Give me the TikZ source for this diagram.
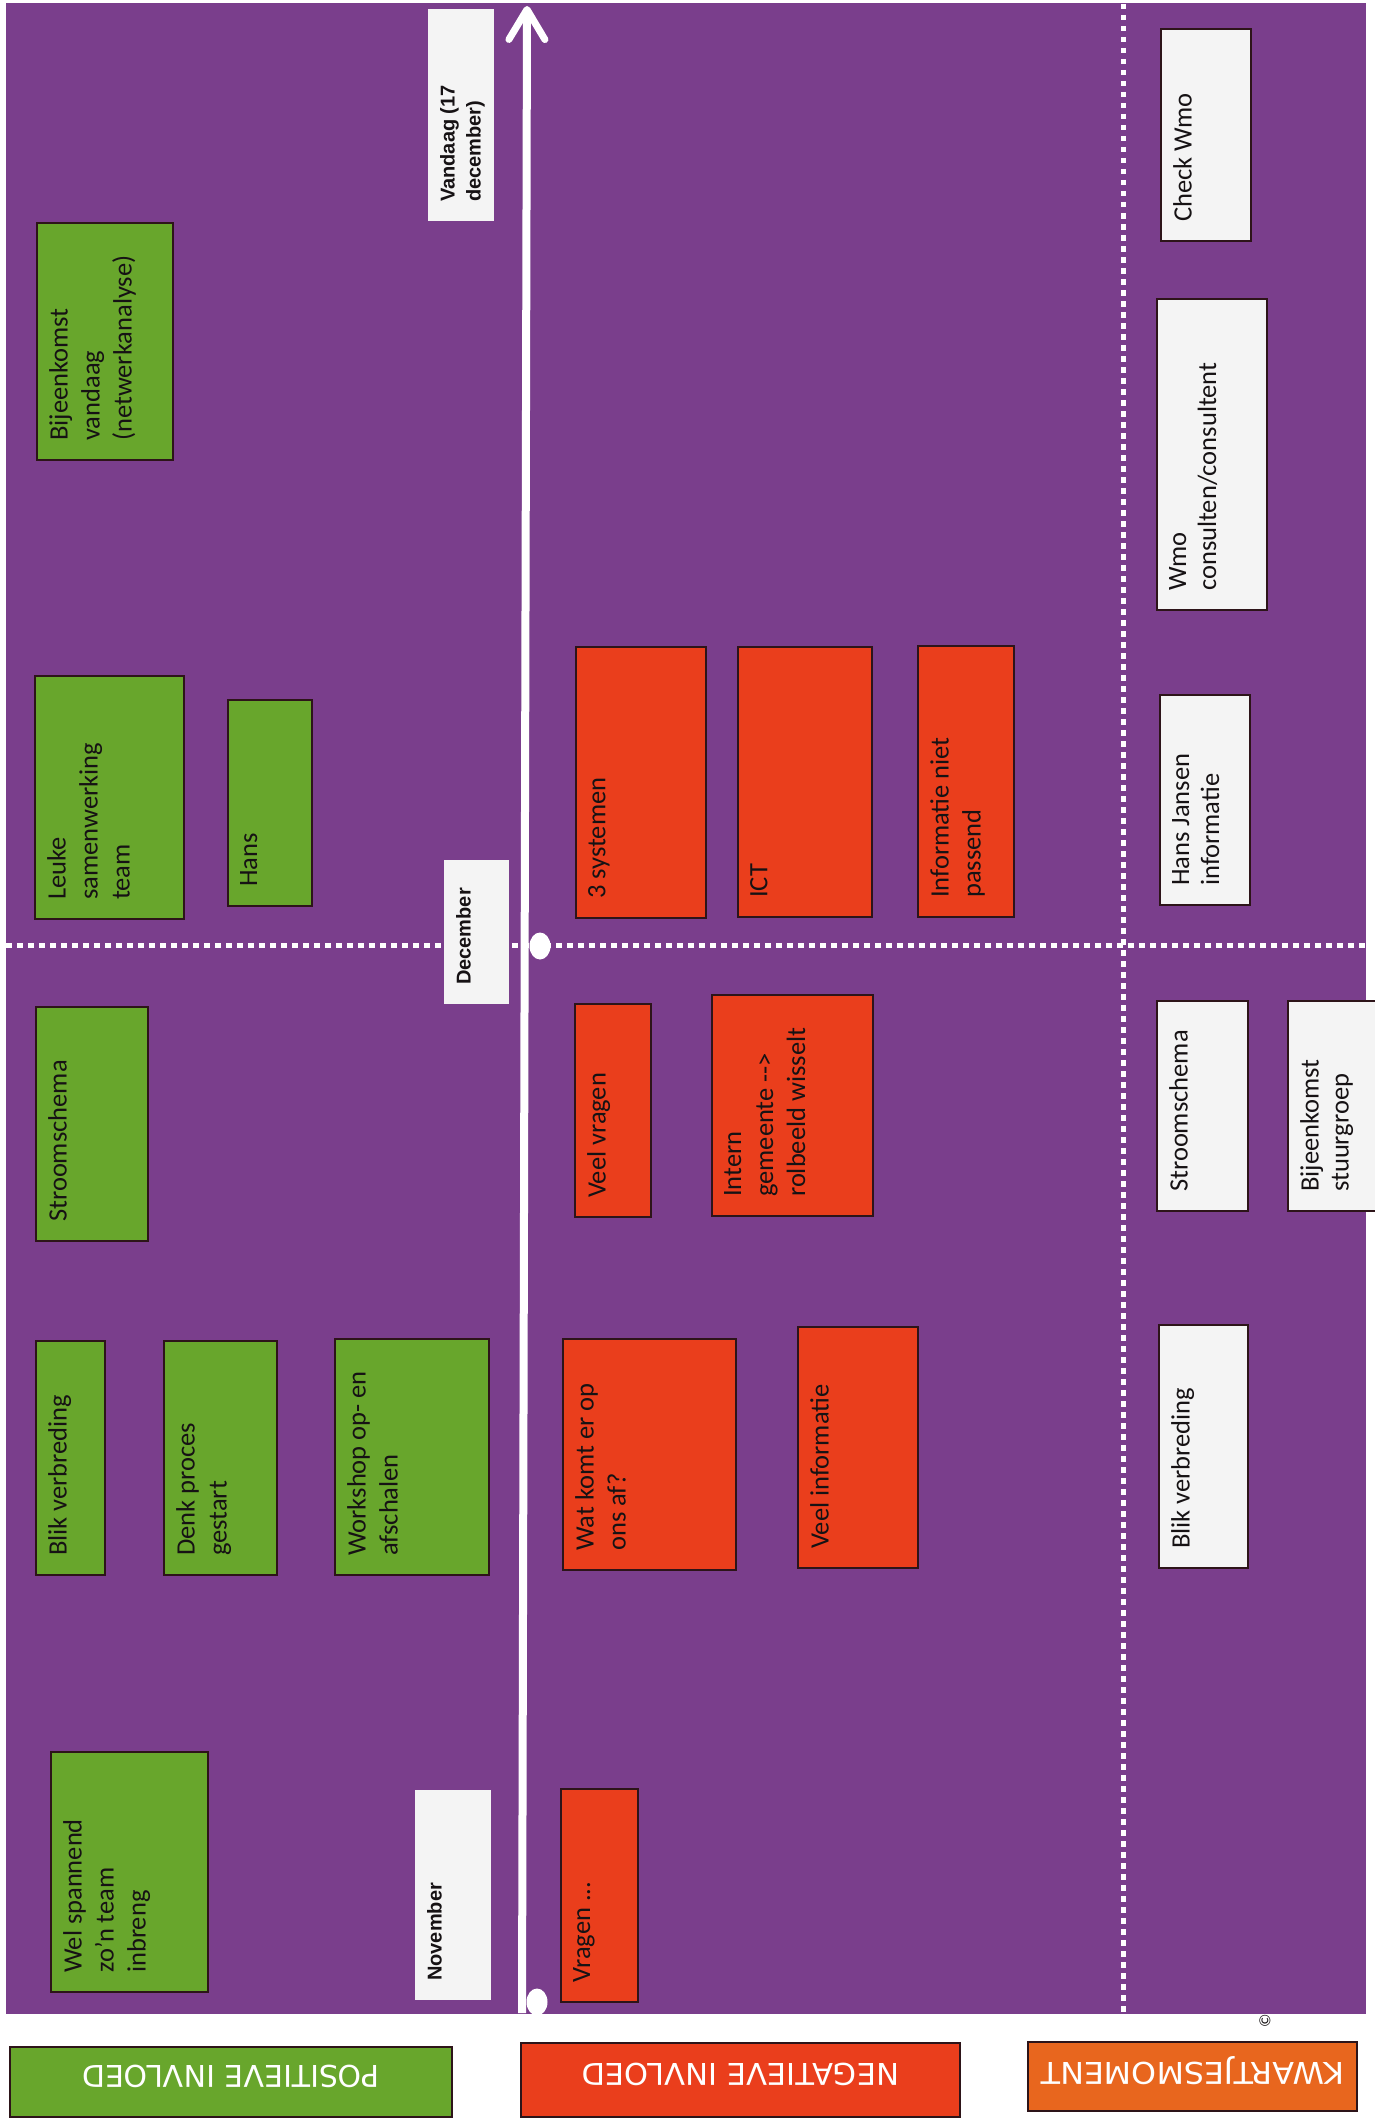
\documentclass[tikz,border=0pt]{standalone}
\usepackage{fontspec}
\setmainfont{Carlito}
\newfontfamily\lblfont{Liberation Sans}
\newfontfamily\capfont{DejaVu Sans}
\usetikzlibrary{arrows.meta,shapes.geometric}
\definecolor{cPurple}{RGB}{122,62,140}
\definecolor{cGreen}{RGB}{104,166,44}
\definecolor{cRed}{RGB}{234,62,28}
\definecolor{cOrange}{RGB}{232,102,30}
\definecolor{cWhite}{RGB}{244,244,244}
\definecolor{cBorder}{RGB}{45,20,25}
\definecolor{cText}{RGB}{22,18,20}
\tikzset{
  boxbase/.style={draw=cBorder, line width=1.5pt, inner sep=0pt, outer sep=0pt},
  greenbox/.style={boxbase, fill=cGreen},
  redbox/.style={boxbase, fill=cRed},
  whitebox/.style={boxbase, fill=cWhite},
  datebox/.style={fill=cWhite, inner sep=0pt, outer sep=0pt},
  bodytext/.style={align=left, inner sep=0pt, text=cText, font=\fontsize{26.5}{32}\selectfont},
  kwtext/.style={align=left, inner sep=0pt, text=cText, font=\fontsize{26.5}{30}\selectfont},
  datetext/.style={align=left, inner sep=0pt, text=cText, font=\lblfont\bfseries\fontsize{20}{26}\selectfont},
  captext/.style={inner sep=0pt, text=white, font=\capfont\fontsize{30}{32}\selectfont},
  dotline/.style={draw=white, line width=5pt, dash pattern=on 5.5pt off 5.5pt},
  tline/.style={draw=white, line width=8pt, -{Straight Barb[length=30pt,width=36pt,line width=7pt,round]}},
  dotcirc/.style={ellipse, fill=white, inner sep=0pt, minimum width=21pt, minimum height=27pt}
}
\newcommand\tlbox[8]{%
  \node[#1, anchor=north west, minimum width={(#5-#3)*1pt}, minimum height={(#6-#4)*1pt}] (#2) at (#3,#4) {};
  \node[#7, rotate=90, anchor=north west] (#2t) at ([shift={(12,-19)}]#2.south west) {#8};
}
\newcommand\capbox[8]{%
  \node[boxbase, fill=#1, anchor=north west, minimum width={(#5-#3)*1pt}, minimum height={(#6-#4)*1pt}] (#2) at (#3,#4) {};
  \node[captext, rotate=180, xscale=#7] (#2t) at ([shift={(0,-6)}]#2.center) {#8};
}
\begin{document}
\begin{tikzpicture}[x=1pt,y=-1pt]
\useasboundingbox (0,0) rectangle (1375,2119);
\fill[white] (0,0) rectangle (1375,2119);
% purple field
\fill[cPurple] (6,3) rectangle (1366,2014);
% dotted grid lines
\coordinate (hl) at (6,945);
\coordinate (hr) at (1366,945);
\coordinate (vt) at (1123,4);
\coordinate (vb) at (1123,2014);
\draw[dotline] (hl) -- (hr);
\draw[dotline] (vt) -- (vb);
% timeline
\coordinate (tbot) at (522,2013);
\coordinate (ttop) at (527,6);
\draw[tline] (tbot) -- (ttop);
\node[dotcirc] (cnov) at (537,2002) {};
\node[dotcirc] (cdec) at (540,946) {};
% positive
\tlbox{greenbox}{g1}{37}{223}{173}{460}{bodytext}{Bijeenkomst\\vandaag\\(netwerkanalyse)}
\tlbox{greenbox}{g2}{35}{676}{184}{919}{bodytext}{Leuke\\samenwerking\\team}
\tlbox{greenbox}{g3}{228}{700}{312}{906}{bodytext}{Hans}
\tlbox{greenbox}{g4}{36}{1007}{148}{1241}{bodytext}{Stroomschema}
\tlbox{greenbox}{g5}{36}{1341}{105}{1575}{bodytext}{Blik verbreding}
\tlbox{greenbox}{g6}{164}{1341}{277}{1575}{bodytext}{Denk proces\\gestart}
\tlbox{greenbox}{g7}{335}{1339}{489}{1575}{bodytext}{Workshop op- en\\afschalen}
\tlbox{greenbox}{g8}{51}{1752}{208}{1992}{bodytext}{Wel spannend\\zo’n team\\inbreng}
% dates
\tlbox{datebox}{d1}{428}{9}{494}{221}{datetext}{Vandaag (17\\december)}
\tlbox{datebox}{d2}{444}{860}{509}{1004}{datetext}{December}
\tlbox{datebox}{d3}{415}{1790}{491}{2000}{datetext}{November}
% negative
\tlbox{redbox}{r1}{576}{647}{706}{918}{bodytext}{3 systemen}
\tlbox{redbox}{r2}{738}{647}{872}{917}{bodytext}{ICT}
\tlbox{redbox}{r3}{918}{646}{1014}{917}{bodytext}{Informatie niet\\passend}
\tlbox{redbox}{r4}{575}{1004}{651}{1217}{bodytext}{Veel vragen}
\tlbox{redbox}{r5}{712}{995}{873}{1216}{bodytext}{Intern\\gemeente -\kern0pt-\kern0pt>\\rolbeeld wisselt}
\tlbox{redbox}{r6}{563}{1339}{736}{1570}{bodytext}{Wat komt er op\\ons af?}
\tlbox{redbox}{r7}{798}{1327}{918}{1568}{bodytext}{Veel informatie}
\tlbox{redbox}{r8}{561}{1789}{638}{2002}{bodytext}{Vragen ...}
% kwartjesmoment
\tlbox{whitebox}{w1}{1161}{29}{1251}{241}{kwtext}{Check Wmo}
\tlbox{whitebox}{w2}{1157}{299}{1267}{610}{kwtext}{Wmo\\consulten/consultent}
\tlbox{whitebox}{w3}{1160}{695}{1250}{905}{kwtext}{Hans Jansen\\informatie}
\tlbox{whitebox}{w4}{1157}{1001}{1248}{1211}{kwtext}{Stroomschema}
\tlbox{whitebox}{w5}{1288}{1001}{1378}{1211}{kwtext}{Bijeenkomst\\stuurgroep}
\tlbox{whitebox}{w6}{1159}{1325}{1248}{1568}{kwtext}{Blik verbreding}
% legend labels
\capbox{cGreen}{lpos}{10}{2047}{452}{2117}{1}{POSITIEVE INVLOED}
\capbox{cRed}{lneg}{521}{2043}{960}{2117}{1.02}{NEGATIEVE INVLOED}
\capbox{cOrange}{lkw}{1028}{2042}{1357}{2111}{1.06}{KWARTJESMOMENT}
\node[text=cText, inner sep=0pt, font=\fontsize{16}{16}\selectfont, rotate=90] (copy) at (1265,2021) {\copyright};
\end{tikzpicture}
\end{document}
